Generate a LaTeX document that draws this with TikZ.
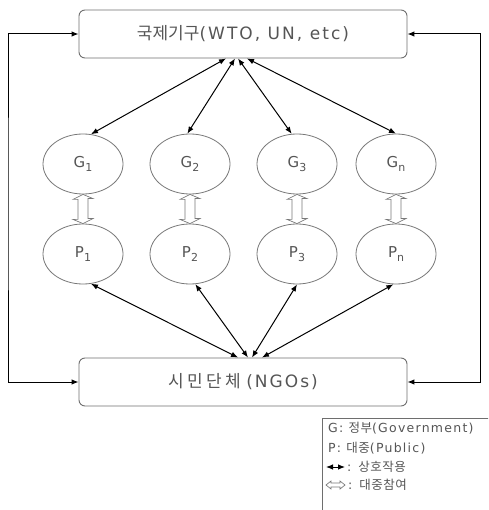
\documentclass[tikz,border=0pt]{standalone}
\usepackage{fontspec}
\setmainfont{DejaVu Sans}
\newfontfamily\boxlat{DejaVu Sans}[LetterSpace=12]
\newfontfamily\boxkr{Noto Sans CJK KR}
\newfontfamily\boxkrw{Noto Sans CJK KR}[LetterSpace=20]
\newfontfamily\legwide{DejaVu Sans}[LetterSpace=10]
\newfontfamily\legkr{Noto Sans CJK KR}[LetterSpace=4]
\usetikzlibrary{arrows.meta,shapes.geometric}

\definecolor{txtgray}{RGB}{85,85,85}
\definecolor{boxgray}{RGB}{110,110,110}
\definecolor{ellgray}{RGB}{120,120,120}

\tikzset{
  orgbox/.style={draw=boxgray, line width=0.9pt, rounded corners=6pt,
    minimum width=328pt, minimum height=48pt, inner sep=0pt,
    text=txtgray, font=\fontsize{17}{19}\selectfont},
  actor/.style={draw=ellgray, line width=0.8pt, ellipse,
    minimum width=80pt, minimum height=60pt, inner sep=0pt,
    text=txtgray, font=\fontsize{15}{18}\selectfont},
  link/.style={{Latex[length=7pt,width=5.5pt]}-{Latex[length=7pt,width=5.5pt]},
    line width=1pt, black},
  hollow/.style={draw=ellgray, line width=0.7pt, fill=white},
  legtext/.style={anchor=west, inner sep=0pt, text=txtgray,
    font=\fontsize{12.5}{15}\selectfont\legwide}
}
\newcommand{\idx}[2]{#1\raisebox{-3.5pt}{\fontsize{11}{12}\selectfont #2}}

\begin{document}
\begin{tikzpicture}[x=1pt,y=-1pt]
\useasboundingbox (0,0) rectangle (488,510);
\clip (0,0) rectangle (488,510);

% organisations
\node[orgbox] (top) at (243,34) {{\boxkr 국제기구}{\boxlat (WTO, UN, etc)}};
\node[orgbox] (bot) at (243,382) {{\boxkrw 시민단체} {\boxlat (NGOs)}};

% governments and publics, joined by hollow double arrows
\foreach \n/\x/\s in {1/83/1, 2/190/2, 3/297/3, n/396/n}{
  \node[actor] (g\n) at (\x,164) {\idx{G}{\s}};
  \node[actor] (p\n) at (\x,254) {\idx{P}{\s}};
  \draw[hollow] (g\n.south) -- ++(-10,5) -- ++(5,0) -- ++(0,20) -- ++(-5,0)
    -- (p\n.north) -- ++(10,-5) -- ++(-5,0) -- ++(0,-20) -- ++(5,0) -- cycle;
}

% interactions with international organisations
\draw[link] ([xshift=-17pt]top.south) -- (g1.75);
\draw[link] ([xshift=-8pt]top.south) -- (g2.95);
\draw[link] ([xshift=-5pt]top.south) -- (g3.100);
\draw[link] ([xshift=4pt]top.south) -- (gn.90);

% interactions with civil society
\draw[link] ([xshift=-5pt]bot.north) -- (p1.-75);
\draw[link] ([xshift=5pt]bot.north) -- (p2.-80);
\draw[link] ([xshift=9pt]bot.north) -- (p3.-90);
\draw[link] ([xshift=19pt]bot.north) -- (pn.-95);

% outer loops
\coordinate (lc) at (8,200);
\coordinate (rc) at (480,200);
\draw[link] (top.west) -| (lc) |- (bot.west);
\draw[link] (top.east) -| (rc) |- (bot.east);

% legend
\draw[draw=boxgray, line width=0.8pt] (322,418) rectangle (500,530);
\node[legtext] (l1) at (328,428) {G: {\legkr 정부}(Government)};
\node[legtext] (l2) at (328,448) {P: {\legkr 대중}(Public)};
\coordinate (a1) at (326,467);
\coordinate (a2) at (345,467);
\draw[link, line width=0.9pt] (a1) -- (a2);
\node[legtext] (l3) at (347,467) {: {\legkr 상호작용}};
\coordinate (b1) at (326,485);
\draw[hollow] (b1) -- ++(5,-4) -- ++(0,2) -- ++(9,0) -- ++(0,-2) -- ++(5,4)
  -- ++(-5,4) -- ++(0,-2) -- ++(-9,0) -- ++(0,2) -- cycle;
\node[legtext] (l4) at (348,485) {: {\legkr 대중참여}};
\end{tikzpicture}
\end{document}
